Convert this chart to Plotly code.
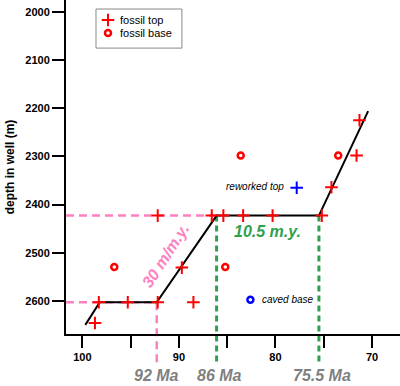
import plotly.graph_objects as go

# ---- data ----
top_age = [98.7, 98.3, 95.3, 92.2, 88.5, 89.7, 92.2, 86.6, 85.4, 83.35, 80.3, 75.2, 74.2, 71.6, 71.3]
top_depth = [2646, 2603, 2603, 2603, 2603, 2531, 2423, 2423, 2423, 2423, 2423, 2423, 2364, 2298, 2225]
base_age = [96.7, 85.2, 83.6, 73.5]
base_depth = [2530, 2530, 2298, 2298]
reworked_age = [77.8]
reworked_depth = [2365]
caved_age = [82.6]
caved_depth = [2598]
model_age = [99.7, 98.2, 92.3, 86.1, 75.5, 70.4]
model_depth = [2650, 2603, 2603, 2423, 2423, 2206]

legend_labels = ["fossil top", "fossil base"]

x_ticks = [100, 95, 90, 85, 80, 75, 70]
x_ticktext = ["100", "", "90", "", "80", "", "70"]
y_ticks = [2000, 2100, 2200, 2300, 2400, 2500, 2600]

X_RANGE = [101.7, 67.1]
Y_RANGE = [2669, 1975]

PINK = "#ff80c0"
GREEN = "#2ea04f"
RED = "#ff0000"
BLUE = "#0000ff"
GRAY = "#808080"
FONT = "Liberation Sans, Arial, sans-serif"


def ypaper(depth):
    return (Y_RANGE[0] - depth) / (Y_RANGE[0] - Y_RANGE[1])


def plus(color):
    return dict(symbol="cross-thin", size=9, color=color, line=dict(color=color, width=2))


def ring(color):
    return dict(symbol="circle-open", size=6, color=color, line=dict(color=color, width=2.5))


fig = go.Figure()

# age-depth model line
fig.add_trace(go.Scatter(x=model_age, y=model_depth, mode="lines",
                         line=dict(color="black", width=2), showlegend=False,
                         hoverinfo="skip"))

fig.add_trace(go.Scatter(x=top_age, y=top_depth, mode="markers", name=legend_labels[0],
                         marker=plus(RED), showlegend=False))
fig.add_trace(go.Scatter(x=base_age, y=base_depth, mode="markers", name=legend_labels[1],
                         marker=ring(RED), showlegend=False))
fig.add_trace(go.Scatter(x=reworked_age, y=reworked_depth, mode="markers", showlegend=False,
                         name="reworked top", marker=plus(BLUE)))
fig.add_trace(go.Scatter(x=caved_age, y=caved_depth, mode="markers", showlegend=False,
                         name="caved base", marker=ring(BLUE)))

# legend key symbols on a hidden overlay axis (0..1 coordinates)
LEG_X = 0.1257
LEG_Y = [0.940, 0.901]
fig.add_trace(go.Scatter(x=[LEG_X], y=[LEG_Y[0]], xaxis="x2", yaxis="y2", mode="markers",
                         marker=plus(RED), showlegend=False, hoverinfo="skip"))
fig.add_trace(go.Scatter(x=[LEG_X], y=[LEG_Y[1]], xaxis="x2", yaxis="y2", mode="markers",
                         marker=ring(RED), showlegend=False, hoverinfo="skip"))

shapes = []
shapes.append(dict(type="rect", xref="paper", yref="paper", x0=0.0898, x1=0.347,
                   y0=0.856, y1=0.973, line=dict(color="#888888", width=1),
                   fillcolor="rgba(0,0,0,0)", layer="below"))
shapes.append(dict(type="line", xref="x", yref="y", x0=X_RANGE[0], x1=model_age[2],
                   y0=model_depth[2], y1=model_depth[2], layer="below",
                   line=dict(color=PINK, width=2.5, dash="8px,5px")))
shapes.append(dict(type="line", xref="x", yref="y", x0=X_RANGE[0], x1=model_age[3],
                   y0=model_depth[3], y1=model_depth[3], layer="below",
                   line=dict(color=PINK, width=2.5, dash="8px,5px")))
shapes.append(dict(type="line", xref="x", yref="paper", x0=model_age[2], x1=model_age[2],
                   y0=ypaper(model_depth[2]), y1=-0.087, layer="below",
                   line=dict(color=PINK, width=2.5, dash="8px,5px")))
for i in (3, 4):
    shapes.append(dict(type="line", xref="x", yref="paper", x0=model_age[i], x1=model_age[i],
                       y0=ypaper(model_depth[i]), y1=-0.083, layer="below",
                       line=dict(color=GREEN, width=3, dash="6px,4px")))

annotations = [
    dict(x=0.156, y=LEG_Y[0], xref="paper", yref="paper", text=legend_labels[0],
         showarrow=False, xanchor="left", yanchor="middle",
         font=dict(family=FONT, size=11, color="black")),
    dict(x=0.156, y=LEG_Y[1], xref="paper", yref="paper", text=legend_labels[1],
         showarrow=False, xanchor="left", yanchor="middle",
         font=dict(family=FONT, size=11, color="black")),
    dict(x=91.4, y=2505, xref="x", yref="y", text="<b><i>30 m/m.y.</i></b>", showarrow=False,
         textangle=-57, xanchor="center", yanchor="middle",
         font=dict(family=FONT, size=16, color=PINK)),
    dict(x=80.8, y=2457, xref="x", yref="y", text="<b><i>10.5 m.y.</i></b>", showarrow=False,
         xanchor="center", yanchor="middle", font=dict(family=FONT, size=16, color=GREEN)),
    dict(x=78.9, y=2363, xref="x", yref="y", text="<i>reworked top</i>", showarrow=False,
         xanchor="right", yanchor="middle", font=dict(family=FONT, size=10, color="black")),
    dict(x=81.6, y=2598, xref="x", yref="y", text="<i>caved base</i>", showarrow=False,
         xanchor="left", yanchor="middle", font=dict(family=FONT, size=10, color="black")),
    dict(x=92.3, y=-0.123, xref="x", yref="paper", text="<b><i>92 Ma</i></b>", showarrow=False,
         xanchor="center", yanchor="middle", font=dict(family=FONT, size=16, color=GRAY)),
    dict(x=85.8, y=-0.123, xref="x", yref="paper", text="<b><i>86 Ma</i></b>", showarrow=False,
         xanchor="center", yanchor="middle", font=dict(family=FONT, size=16, color=GRAY)),
    dict(x=75.2, y=-0.123, xref="x", yref="paper", text="<b><i>75.5 Ma</i></b>", showarrow=False,
         xanchor="center", yanchor="middle", font=dict(family=FONT, size=16, color=GRAY)),
]

fig.update_layout(
    width=400, height=386,
    margin=dict(l=66, r=0, t=0, b=52, pad=0),
    paper_bgcolor="white", plot_bgcolor="white",
    font=dict(family=FONT, size=11, color="black"),
    shapes=shapes, annotations=annotations,
    showlegend=False,
    xaxis=dict(range=X_RANGE, tickvals=x_ticks, ticktext=x_ticktext, automargin=False,
               showgrid=False, zeroline=False, showline=True, linecolor="black",
               linewidth=2, ticks="outside", ticklen=12, tickwidth=1.5,
               tickcolor="black", tickfont=dict(family=FONT, size=11, weight="bold")),
    yaxis=dict(range=Y_RANGE, tickvals=y_ticks, automargin=False,
               showgrid=False, zeroline=False, showline=True, linecolor="black",
               linewidth=2, ticks="outside", ticklen=12, tickwidth=1.5,
               tickcolor="black", tickfont=dict(family=FONT, size=11, weight="bold"),
               title=dict(text="<b>depth in well (m)</b>", standoff=8,
                          font=dict(family=FONT, size=12))),
    xaxis2=dict(range=[0, 1], domain=[0, 1], overlaying="x", visible=False, fixedrange=True),
    yaxis2=dict(range=[0, 1], domain=[0, 1], overlaying="y", visible=False, fixedrange=True),
)

fig.write_html("out.html", config={"displayModeBar": False},
               post_script="document.body.style.margin='0';document.body.style.padding='0';")
